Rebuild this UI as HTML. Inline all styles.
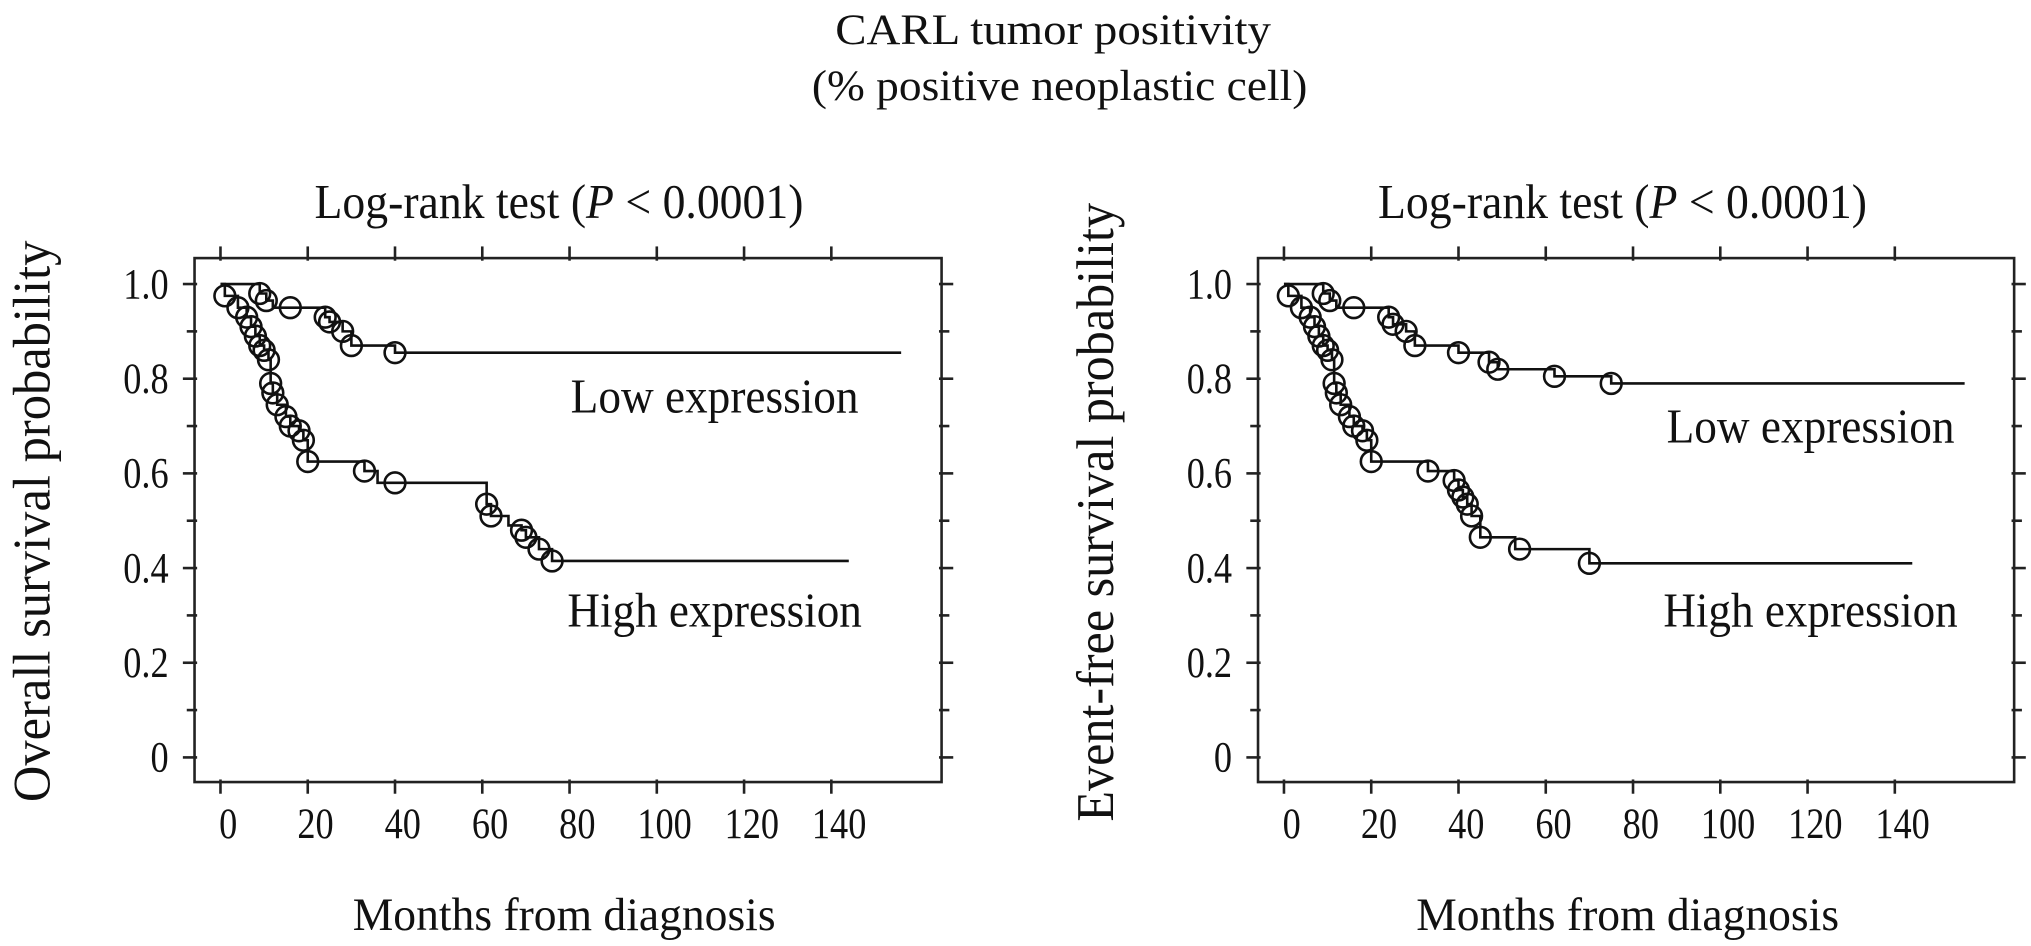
<!DOCTYPE html>
<html><head><meta charset="utf-8"><style>
body{margin:0;background:#fff;overflow:hidden;}
svg{display:block;}
svg text{font-family:"Liberation Serif",serif;fill:#111;}
</style></head><body>
<svg id="fig" width="2031" height="946" viewBox="0 0 1566 729.4" xmlns="http://www.w3.org/2000/svg">
</svg>
<script>
const xTicks=[0,20,40,60,80,100,120,140];
const yTicks=[0,0.2,0.4,0.6,0.8,1.0];
const yTickLabels=["0","0.2","0.4","0.6","0.8","1.0"];
// Overall survival - low expression (step vertices)
const osLowT=[0,9,10.5,12,24,25,28,30,40];
const osLowS=[1.0,0.98,0.965,0.95,0.93,0.92,0.90,0.87,0.855];
const osLowEnd=156;
const osLowCT=[9,10.5,16,24,25,28,30,40];
const osLowCS=[0.98,0.965,0.95,0.93,0.92,0.90,0.87,0.855];
// Overall survival - high expression
const osHighT=[0,1,4,6,7,8,9,10,11,11.5,12,13,15,16,18,19,20,33,36,61,62,66,69,70,73,76];
const osHighS=[1.0,0.975,0.95,0.93,0.91,0.89,0.87,0.86,0.84,0.79,0.77,0.745,0.72,0.70,0.69,0.67,0.625,0.605,0.58,0.535,0.51,0.49,0.48,0.465,0.44,0.415];
const osHighEnd=144;
const osHighCT=[1,4,6,7,8,9,10,11,11.5,12,13,15,16,18,19,20,33,40,61,62,69,70,73,76];
const osHighCS=[0.975,0.95,0.93,0.91,0.89,0.87,0.86,0.84,0.79,0.77,0.745,0.72,0.70,0.69,0.67,0.625,0.605,0.58,0.535,0.51,0.48,0.465,0.44,0.415];
// Event-free survival - low expression
const efLowT=[0,9,10.5,12,24,25,28,30,40,47,49,62,75];
const efLowS=[1.0,0.98,0.965,0.95,0.93,0.915,0.90,0.87,0.855,0.835,0.82,0.805,0.79];
const efLowEnd=156;
const efLowCT=[9,10.5,16,24,25,28,30,40,47,49,62,75];
const efLowCS=[0.98,0.965,0.95,0.93,0.915,0.90,0.87,0.855,0.835,0.82,0.805,0.79];
// Event-free survival - high expression
const efHighT=[0,1,4,6,7,8,9,10,11,11.5,12,13,15,16,18,19,20,33,39,40,41,42,43,45,53,70];
const efHighS=[1.0,0.975,0.95,0.93,0.91,0.89,0.87,0.86,0.84,0.79,0.77,0.745,0.72,0.70,0.69,0.67,0.625,0.605,0.585,0.565,0.55,0.535,0.51,0.465,0.44,0.41];
const efHighEnd=144;
const efHighCT=[1,4,6,7,8,9,10,11,11.5,12,13,15,16,18,19,20,33,39,40,41,42,43,45,54,70];
const efHighCS=[0.975,0.95,0.93,0.91,0.89,0.87,0.86,0.84,0.79,0.77,0.745,0.72,0.70,0.69,0.67,0.625,0.605,0.585,0.565,0.55,0.535,0.51,0.465,0.44,0.41];

const NS="http://www.w3.org/2000/svg";
const svg=document.getElementById('fig');
function mk(tag,attrs,parent){const e=document.createElementNS(NS,tag);for(const k in attrs)e.setAttribute(k,attrs[k]);(parent||svg).appendChild(e);return e;}
function txt(parent,x,y,size,anchor,len,rot){
  const a={x:0,y:0,'font-size':size,'text-anchor':anchor,
    transform:rot?`translate(${x},${y}) rotate(-90) scale(1,1.2)`:`translate(${x},${y}) scale(1,1.2)`};
  if(len){a.textLength=len;a.lengthAdjust='spacingAndGlyphs';}
  return mk('text',a,parent);
}
const t1=txt(svg,812,34,28,'middle',336);
t1.textContent='CARL  tumor positivity';


const t2=txt(svg,817,77,28,'middle',382);
t2.textContent='(% positive neoplastic cell)';



function panel(p){
  const g=mk('g',{});
  
  
  const sx=t=>p.x0+(t/140)*(p.x140-p.x0);
  const sy=v=>584-(v)*(584-219);
  const L=p.fl,R=p.fr,T=199,B=603;
  const frame=mk('rect',{x:L,y:T,width:R-L,height:B-T,fill:'none',stroke:'#222','stroke-width':2},g);
  
  
  for(let v=0;v<=10;v++){
    const y=sy(v/10),len=(v%2===0)?9:6;
    mk('line',{x1:L-len,x2:L+2,y1:y,y2:y,stroke:'#222','stroke-width':2},g);
    mk('line',{x1:R-2,x2:R+len,y1:y,y2:y,stroke:'#222','stroke-width':2},g);
  }
  yTicks.forEach((v,i)=>{
    const t=txt(g,L-20,sy(v)+11,28,'end');
    t.textContent=yTickLabels[i];
    
    
  });
  xTicks.forEach(v=>{
    const x=sx(v);
    mk('line',{x1:x,x2:x,y1:T-9,y2:T+2,stroke:'#222','stroke-width':2},g);
    mk('line',{x1:x,x2:x,y1:B-2,y2:B+9,stroke:'#222','stroke-width':2},g);
    const t=txt(g,x+6,646,28,'middle');
    t.textContent=String(v);
    
    
  });
  const tt=txt(g,p.tcx,168,31,'middle',377);
  tt.innerHTML='Log-rank test (<tspan font-style="italic">P</tspan> &lt; 0.0001)';
  
  
  const xl=txt(g,p.tcx+4,717,30,'middle',326);
  xl.textContent='Months from diagnosis';
  
  
  const yl=txt(g,p.ylx,p.ylc,34,'middle',p.yll,true);
  yl.textContent=p.ylabel;
  
  
  p.series.forEach(s=>{
    let d=`M${sx(s.T[0])},${sy(s.S[0])}`;
    for(let i=1;i<s.T.length;i++){d+=` H${sx(s.T[i])} V${sy(s.S[i])}`;}
    d+=` H${sx(s.end)}`;
    const path=mk('path',{d:d,fill:'none',stroke:'#111','stroke-width':2},g);
    
    
    s.CT.forEach((t,i)=>{
      const c=mk('circle',{cx:sx(t),cy:sy(s.CS[i]),r:8,fill:'none',stroke:'#111','stroke-width':2},g);
      
      
    });
    const lb=txt(g,s.lx,s.ly,31,'middle',s.lw);
    lb.textContent=s.label;
    
    
  });
}
panel({name:'overall-survival-panel',x0:170,x140:641,fl:150,fr:726,tcx:431,ylx:38,ylc:402,yll:433,ylabel:'Overall survival probability',
  series:[{name:'low-expression',T:osLowT,S:osLowS,end:osLowEnd,CT:osLowCT,CS:osLowCS,label:'Low expression',lx:551,ly:318,lw:222},
          {name:'high-expression',T:osHighT,S:osHighS,end:osHighEnd,CT:osHighCT,CS:osHighCS,label:'High expression',lx:551,ly:483,lw:227}]});
panel({name:'event-free-survival-panel',x0:990,x140:1461,fl:970,fr:1553,tcx:1251,ylx:858,ylc:395,yll:477,ylabel:'Event-free survival probability',
  series:[{name:'low-expression',T:efLowT,S:efLowS,end:efLowEnd,CT:efLowCT,CS:efLowCS,label:'Low expression',lx:1396,ly:341,lw:222},
          {name:'high-expression',T:efHighT,S:efHighS,end:efHighEnd,CT:efHighCT,CS:efHighCS,label:'High expression',lx:1396,ly:483,lw:227}]});
</script>
</body></html>
